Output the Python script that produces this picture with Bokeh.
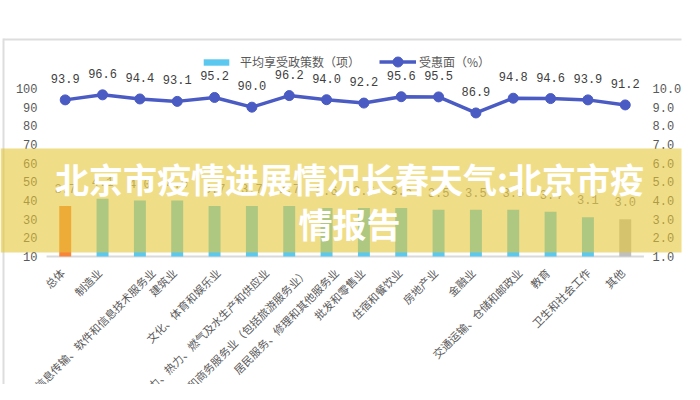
import math
from bokeh.plotting import figure
from bokeh.models import (ColumnDataSource, Range1d, LinearAxis, FixedTicker,
                          PrintfTickFormatter, LabelSet, Label, BoxAnnotation, Legend, LegendItem)
from bokeh.embed import file_html
from bokeh.resources import INLINE
from bokeh.core.properties import value

categories = ["总体", "制造业", "信息传输、软件和信息技术服务业", "建筑业", "文化、体育和娱乐业",
              "电力、热力、燃气及水生产和供应业", "租赁和商务服务业（包括旅游服务业）",
              "居民服务、修理和其他服务业", "批发和零售业", "住宿和餐饮业", "房地产业", "金融业",
              "交通运输、仓储和邮政业", "教育", "卫生和社会工作", "其他"]
benefit_rate = [93.9, 96.6, 94.4, 93.1, 95.2, 90.0, 96.2, 94.0, 92.2, 95.6, 95.5, 86.9, 94.8, 94.6, 93.9, 91.2]
avg_policies = [3.7, 4.1, 4.0, 4.0, 3.7, 3.7, 3.7, 3.6, 3.6, 3.6, 3.5, 3.5, 3.5, 3.4, 3.1, 3.0]
left_ticks = [10, 20, 30, 40, 50, 60, 70, 80, 90, 100]
right_ticks = [1, 2, 3, 4, 5, 6, 7, 8, 9, 10]
series_names = ["平均享受政策数（项）", "受惠面（%）"]
title_lines = ["北京市疫情进展情况长春天气:北京市疫", "情报告"]

bar_colors = ["#F7853A"] + ["#5BC8F0"] * (len(categories) - 2) + ["#BFBFBF"]
idx = list(range(len(categories)))
n = len(categories)

src = ColumnDataSource(dict(
    x=idx,
    cat=categories,
    rate=benefit_rate,
    pol=avg_policies,
    base=[right_ticks[0]] * n,
    xb=[left_ticks[0]] * n,
    color=bar_colors,
    rate_txt=["%.1f" % v for v in benefit_rate],
    pol_txt=["%.1f" % v for v in avg_policies],
    # long rotated labels sit a little to the right of their tick (as in the source chart)
    lab_dx=[-3 + 1.6 * max(0, len(c) - 5) for c in categories],
))

NUM_FONT = "Liberation Mono"
CJK_FONT = "Noto Sans CJK SC"

# the plotting frame spans the whole canvas so that overlays and rotated labels are not clipped
W, H = 684, 384
x0_px, step_px = 65.0, 37.5          # pixel position of first category, spacing
ybase_px, px_per_unit = 256.0, 168.0 / 90.0
x_start = -x0_px / step_px
x_end = (W - x0_px) / step_px
yl_start = left_ticks[0] - (H - ybase_px) / px_per_unit
yl_end = left_ticks[0] + ybase_px / px_per_unit
yr_start = right_ticks[0] - (H - ybase_px) / (px_per_unit * 10)
yr_end = right_ticks[0] + ybase_px / (px_per_unit * 10)

p = figure(width=W, height=H, output_backend="svg", toolbar_location=None,
           x_range=Range1d(x_start, x_end), y_range=Range1d(yl_start, yl_end),
           x_axis_location=None,
           min_border_left=0, min_border_right=0, min_border_top=0, min_border_bottom=0)
p.outline_line_color = None
p.background_fill_color = "white"
p.border_fill_color = "white"
p.xgrid.grid_line_color = None
p.ygrid.grid_line_color = None

p.extra_y_ranges = {"right": Range1d(yr_start, yr_end)}

# left axis (labels pulled into the frame)
ya = p.yaxis[0]
ya.ticker = FixedTicker(ticks=left_ticks)
ya.axis_line_color = None
ya.major_tick_line_color = None
ya.minor_tick_line_color = None
ya.major_tick_out = 0
ya.major_tick_in = 0
ya.major_label_standoff = -37
ya.major_label_text_font = NUM_FONT
ya.major_label_text_font_size = "12px"
ya.major_label_text_color = "#595959"

ra = LinearAxis(y_range_name="right", ticker=FixedTicker(ticks=right_ticks),
                formatter=PrintfTickFormatter(format="%.1f"))
ra.axis_line_color = None
ra.major_tick_line_color = None
ra.minor_tick_line_color = None
ra.major_tick_out = 0
ra.major_tick_in = 0
ra.major_label_standoff = -29
ra.major_label_text_font = NUM_FONT
ra.major_label_text_font_size = "12px"
ra.major_label_text_color = "#595959"
p.add_layout(ra, "right")

# category axis baseline
p.segment(x0=idx[0] - 0.5, x1=idx[-1] + 0.5, y0=left_ticks[0], y1=left_ticks[0],
          line_color="#D9D9D9", line_width=2)

# bars
bars = p.vbar(x="x", top="pol", bottom="base", width=0.32, fill_color="color",
              line_color=None, y_range_name="right", source=src)

# line
line_color = "#4A5BC4"
ln = p.line(x="x", y="rate", line_color=line_color, line_width=3.5, source=src)
mk = p.scatter(x="x", y="rate", size=10, fill_color=line_color, line_color=line_color, source=src)

# value labels
p.add_layout(LabelSet(x="x", y="rate", text="rate_txt", source=src, text_align="center",
                      text_baseline="bottom", y_offset=17, text_font=value(NUM_FONT),
                      text_font_size="12px", text_color="#404040"))
p.add_layout(LabelSet(x="x", y="pol", text="pol_txt", source=src, text_align="center",
                      text_baseline="bottom", y_offset=13, text_font=value(NUM_FONT),
                      text_font_size="12px", text_color="#7F7F7F", y_range_name="right"))

# category labels (rotated, below the baseline)
p.add_layout(LabelSet(x="x", y="xb", text="cat", source=src, text_align="right",
                      text_baseline="middle", angle=math.pi / 4, x_offset="lab_dx", y_offset=-14,
                      text_font=value(CJK_FONT), text_font_size="11px", text_color="#595959"))

# legends
leg1 = Legend(items=[LegendItem(label=series_names[0], renderers=[bars], index=1)],
              location=(200, 314), glyph_width=32, glyph_height=8, label_standoff=8,
              padding=0, margin=0, border_line_color=None, background_fill_alpha=0,
              label_text_font=CJK_FONT, label_text_font_size="12px", label_text_color="#595959")
leg2 = Legend(items=[LegendItem(label=series_names[1], renderers=[ln, mk])],
              location=(379, 310), glyph_width=37, glyph_height=25, label_standoff=3,
              padding=0, margin=0, border_line_color=None, background_fill_alpha=0,
              label_text_font=CJK_FONT, label_text_font_size="12px", label_text_color="#595959")
p.add_layout(leg1, "center")
p.add_layout(leg2, "center")

# frame lines of the original screenshot
for l, r, t, b in [(3, 684, 38, 40), (2, 4, 38, 384), (682, 684, 38, 384)]:
    p.add_layout(BoxAnnotation(left=l, right=r, top=t, bottom=b, left_units="canvas",
                               right_units="canvas", top_units="canvas", bottom_units="canvas",
                               fill_color="#DDDDDD", fill_alpha=1, line_color=None, level="overlay"))

# banner overlay
p.add_layout(BoxAnnotation(left=0, right=W, top=148, bottom=252, left_units="canvas",
                           right_units="canvas", top_units="canvas", bottom_units="canvas",
                           fill_color="#E6C637", fill_alpha=0.6, line_color=None, level="overlay"))
p.add_layout(Label(x=349, y=206, x_units="screen", y_units="screen", text=title_lines[0],
                   text_align="center", text_baseline="middle", text_font=CJK_FONT,
                   text_font_size="34px", text_font_style="bold", text_color="white", level="overlay"))
p.add_layout(Label(x=349, y=161, x_units="screen", y_units="screen", text=title_lines[1],
                   text_align="center", text_baseline="middle", text_font=CJK_FONT,
                   text_font_size="34px", text_font_style="bold", text_color="white", level="overlay"))

open("out.html", "w").write(file_html(p, INLINE))
